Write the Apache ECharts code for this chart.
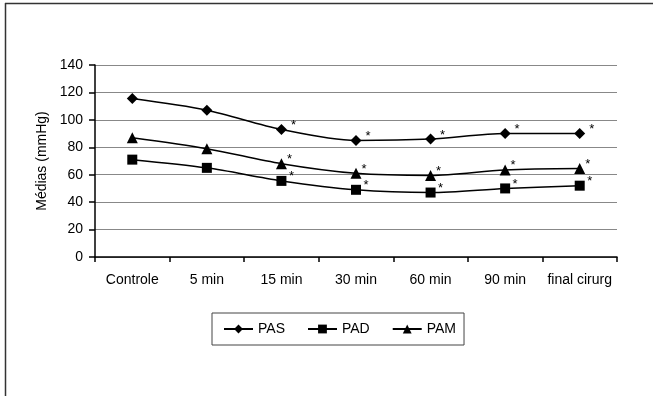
<!DOCTYPE html>
<html><head><meta charset="utf-8">
<script src="https://cdn.jsdelivr.net/npm/echarts@6/dist/echarts.min.js"></script>
<style>html,body{margin:0;padding:0;background:#fff}#c{width:653px;height:396px}</style>
</head><body><div id="c"></div>
<script>
const categories = ['Controle','5 min','15 min','30 min','60 min','90 min','final cirurg'];
const pas = [115.5, 107, 93, 85, 86, 90, 90];
const pad = [71, 65, 55.5, 49, 47, 50, 52];
const pam = [87, 79, 68, 61, 59.5, 63.5, 64.5];
const starFrom = 2;
const yTicks = [0, 20, 40, 60, 80, 100, 120, 140];

function withStars(arr){
  return arr.map((v,i)=> i>=starFrom ? {value:v, label:{show:true}} : {value:v});
}
const font = 'Liberation Sans, Arial, sans-serif';
const chart = echarts.init(document.getElementById('c'));
const baseSeries = (name, data, symbol, size, dx) => ({
  name, type:'line', data: withStars(data), symbol, symbolSize: size,
  smooth: 0.3, z: 3,
  lineStyle:{color:'#000', width:1.5},
  itemStyle:{color:'#000'},
  label:{show:false, formatter:'*', position:'inside', offset:[dx,-4], color:'#000', fontSize:13, fontFamily:font}
});
chart.setOption({
  animation:false,
  textStyle:{fontFamily:font},
  grid:{left:95, right:36, top:65, bottom:139, containLabel:false},
  xAxis:{type:'category', data:categories, boundaryGap:true,
    axisLine:{lineStyle:{color:'#000', width:1.5}},
    axisTick:{show:true, length:5, inside:false, interval:0, lineStyle:{color:'#000', width:1.5}},
    axisLabel:{color:'#000', fontSize:14, margin:16, interval:0, hideOverlap:false, fontFamily:font}},
  yAxis:{type:'value', min:yTicks[0], max:yTicks[yTicks.length-1], interval:20,
    name:'Médias (mmHg)', nameLocation:'middle', nameGap:46, nameRotate:90,
    nameTextStyle:{color:'#000', fontSize:14, fontFamily:font},
    axisLine:{show:true, lineStyle:{color:'#000', width:1.5}},
    axisTick:{show:true, length:6, lineStyle:{color:'#000', width:1.5}},
    axisLabel:{color:'#000', fontSize:14, margin:12, fontFamily:font},
    splitLine:{lineStyle:{color:'#888', width:1}}},
  legend:{left:212, top:313, itemGap:22, itemWidth:29, itemHeight:11,
    padding:[9,8,9,11],
    borderColor:'#444', borderWidth:1,
    textStyle:{color:'#000', fontSize:14, fontFamily:font},
    data:['PAS','PAD','PAM']},
  graphic:[
    {type:'line', shape:{x1:5, y1:3.5, x2:653, y2:3.5}, style:{stroke:'#333', lineWidth:1.5}},
    {type:'line', shape:{x1:5.5, y1:3, x2:5.5, y2:396}, style:{stroke:'#333', lineWidth:1.5}}
  ],
  series:[
    baseSeries('PAS', pas, 'diamond', 11, 12),
    baseSeries('PAD', pad, 'rect', 10, 10),
    baseSeries('PAM', pam, 'triangle', 11, 8)
  ]
});
</script></body></html>
